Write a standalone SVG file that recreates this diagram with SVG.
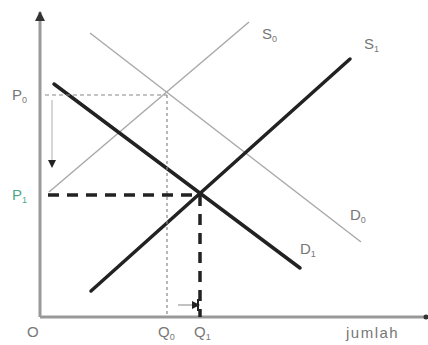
<svg xmlns="http://www.w3.org/2000/svg" width="428" height="345" viewBox="0 0 428 345">
<style>
.lbl{font-family:"Liberation Sans",Arial,sans-serif;font-size:15px;fill:#777}
.sub{font-size:9px}
.thin{stroke:#aaa;stroke-width:1.5;fill:none}
.thick{stroke:#222;stroke-width:3.5;fill:none;stroke-linecap:round}
</style>
<defs>
<marker id="ah" markerWidth="8" markerHeight="8" refX="7" refY="4" orient="auto" markerUnits="userSpaceOnUse"><path d="M0,0 L8,4 L0,8 Z" fill="#222"/></marker>
<marker id="ax" markerWidth="10" markerHeight="10" refX="9" refY="5" orient="auto" markerUnits="userSpaceOnUse"><path d="M0,0 L10,5 L0,10 Z" fill="#333"/></marker>
</defs>
<g id="axes">
<line x1="40" y1="317" x2="40" y2="12" stroke="#999" stroke-width="3" marker-end="url(#ax)"/>
<line x1="40" y1="317" x2="427" y2="317" stroke="#999" stroke-width="3"/>
<circle cx="426" cy="317" r="2.5" fill="#333"/>
</g>
<g id="connectors">
<line id="S0" class="thin" x1="49" y1="192" x2="249" y2="22"/>
<line id="D0" class="thin" x1="90" y1="33" x2="361" y2="242"/>
<line id="D1" class="thick" x1="54" y1="84" x2="300" y2="268"/>
<line id="S1" class="thick" x1="91" y1="291" x2="350" y2="59"/>
<line x1="45" y1="95" x2="167" y2="95" stroke="#888" stroke-width="1.2" stroke-dasharray="4,3"/>
<line x1="167" y1="95" x2="167" y2="317" stroke="#888" stroke-width="1.2" stroke-dasharray="3,3"/>
<line x1="48" y1="195" x2="200" y2="195" stroke="#222" stroke-width="3.5" stroke-dasharray="11,8"/>
<line x1="200" y1="195" x2="200" y2="317" stroke="#222" stroke-width="3.5" stroke-dasharray="11,8"/>
<line x1="52" y1="100" x2="52" y2="167" stroke="#bbb" stroke-width="1.2" marker-end="url(#ah)"/>
<line x1="178" y1="305" x2="199" y2="305" stroke="#999" stroke-width="1.2" marker-end="url(#ah)"/>
<line x1="198" y1="299" x2="198" y2="311" stroke="#222" stroke-width="2"/>
</g>
<g id="labels">
<text class="lbl" x="12" y="100">P<tspan class="sub" dy="3">0</tspan></text>
<text class="lbl" x="12" y="200" style="fill:#4aa88a">P<tspan class="sub" dy="3">1</tspan></text>
<text class="lbl" x="262" y="39">S<tspan class="sub" dy="3">0</tspan></text>
<text class="lbl" x="364" y="49">S<tspan class="sub" dy="3">1</tspan></text>
<text class="lbl" x="350" y="220">D<tspan class="sub" dy="3">0</tspan></text>
<text class="lbl" x="300" y="254">D<tspan class="sub" dy="3">1</tspan></text>
<text class="lbl" x="27" y="337">O</text>
<text class="lbl" x="158" y="337">Q<tspan class="sub" dy="3">0</tspan></text>
<text class="lbl" x="194" y="337">Q<tspan class="sub" dy="3">1</tspan></text>
<text class="lbl" x="346" y="338" style="font-size:15px;letter-spacing:1.5px">jumlah</text>
</g>
</svg>
